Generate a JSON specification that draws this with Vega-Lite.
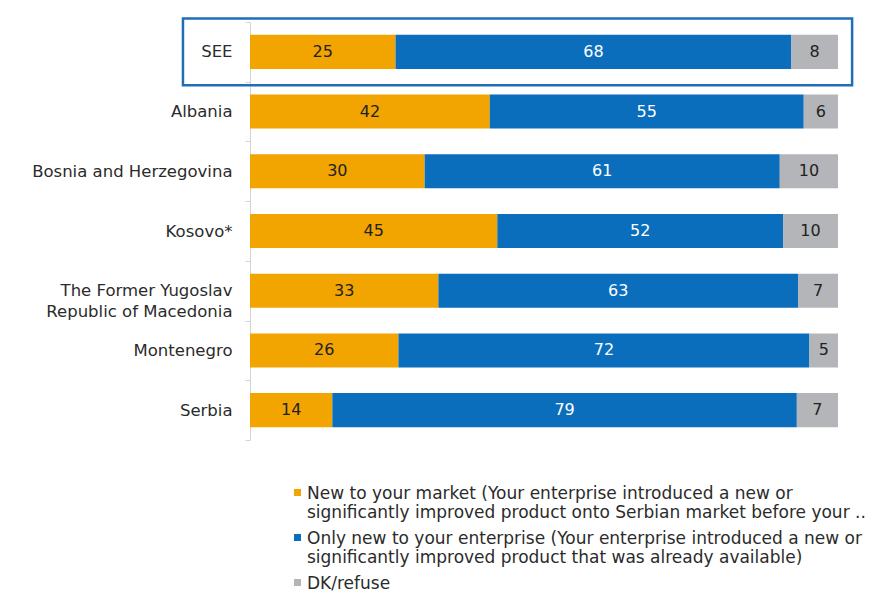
{
  "$schema": "https://vega.github.io/schema/vega-lite/v6.json",
  "width": 588,
  "height": 418,
  "autosize": {"type": "none"},
  "padding": {"left": 250, "top": 22, "right": 49, "bottom": 157},
  "background": "white",
  "config": {"view": {"stroke": null}, "font": "DejaVu Sans"},
  "data": {
    "values": [
      {"region": "SEE", "category": "New to your market", "rank": 1, "value": 25},
      {"region": "SEE", "category": "Only new to your enterprise", "rank": 2, "value": 68},
      {"region": "SEE", "category": "DK/refuse", "rank": 3, "value": 8},
      {"region": "Albania", "category": "New to your market", "rank": 1, "value": 42},
      {"region": "Albania", "category": "Only new to your enterprise", "rank": 2, "value": 55},
      {"region": "Albania", "category": "DK/refuse", "rank": 3, "value": 6},
      {"region": "Bosnia and Herzegovina", "category": "New to your market", "rank": 1, "value": 30},
      {"region": "Bosnia and Herzegovina", "category": "Only new to your enterprise", "rank": 2, "value": 61},
      {"region": "Bosnia and Herzegovina", "category": "DK/refuse", "rank": 3, "value": 10},
      {"region": "Kosovo*", "category": "New to your market", "rank": 1, "value": 45},
      {"region": "Kosovo*", "category": "Only new to your enterprise", "rank": 2, "value": 52},
      {"region": "Kosovo*", "category": "DK/refuse", "rank": 3, "value": 10},
      {"region": "The Former Yugoslav Republic of Macedonia", "category": "New to your market", "rank": 1, "value": 33},
      {"region": "The Former Yugoslav Republic of Macedonia", "category": "Only new to your enterprise", "rank": 2, "value": 63},
      {"region": "The Former Yugoslav Republic of Macedonia", "category": "DK/refuse", "rank": 3, "value": 7},
      {"region": "Montenegro", "category": "New to your market", "rank": 1, "value": 26},
      {"region": "Montenegro", "category": "Only new to your enterprise", "rank": 2, "value": 72},
      {"region": "Montenegro", "category": "DK/refuse", "rank": 3, "value": 5},
      {"region": "Serbia", "category": "New to your market", "rank": 1, "value": 14},
      {"region": "Serbia", "category": "Only new to your enterprise", "rank": 2, "value": 79},
      {"region": "Serbia", "category": "DK/refuse", "rank": 3, "value": 7}
    ]
  },
  "encoding": {
    "y": {
      "field": "region",
      "type": "nominal",
      "sort": ["SEE", "Albania", "Bosnia and Herzegovina", "Kosovo*", "The Former Yugoslav Republic of Macedonia", "Montenegro", "Serbia"],
      "scale": {"paddingInner": 0, "paddingOuter": 0},
      "axis": {
        "title": null,
        "domainColor": "#d4d4d4",
        "tickColor": "#d4d4d4",
        "tickBand": "extent",
        "tickSize": 5,
        "labelFontSize": 16.5,
        "labelColor": "#2b2b2b",
        "labelPadding": 13,
        "labelLimit": 0,
        "labelLineHeight": 21,
        "labelExpr": "datum.label == 'The Former Yugoslav Republic of Macedonia' ? ['The Former Yugoslav', 'Republic of Macedonia'] : datum.label"
      }
    }
  },
  "layer": [
    {
      "mark": {"type": "bar", "height": {"band": 0.57}},
      "encoding": {
        "x": {"field": "value", "type": "quantitative", "stack": "normalize", "scale": {"domain": [0, 1], "nice": false, "zero": false}, "axis": null},
        "color": {
          "field": "category",
          "type": "nominal",
          "scale": {
            "domain": ["New to your market", "Only new to your enterprise", "DK/refuse"],
            "range": ["#f2a400", "#0a6ebd", "#b4b5b8"]
          },
          "legend": {
            "orient": "none",
            "legendX": 39,
            "legendY": 462,
            "direction": "vertical",
            "title": null,
            "padding": 0,
            "symbolType": "square",
            "symbolSize": 49,
            "symbolStrokeWidth": 0,
            "labelFontSize": 17,
            "labelColor": "#2b2b2b",
            "labelLimit": 0,
            "labelOffset": 1,
            "labelBaseline": "top",
            "labelLineHeight": 20,
            "rowPadding": 8,
            "labelExpr": "datum.label == 'New to your market' ? ['New to your market (Your enterprise introduced a new or', 'significantly improved product onto Serbian market before your ..'] : datum.label == 'Only new to your enterprise' ? ['Only new to your enterprise (Your enterprise introduced a new or', 'significantly improved product that was already available)'] : datum.label",
            "encode": {"labels": {"update": {"dy": {"value": -7}}}}
          }
        },
        "order": {"field": "rank"}
      }
    },
    {
      "mark": {"type": "text", "fontSize": 16, "baseline": "middle"},
      "encoding": {
        "x": {"field": "value", "type": "quantitative", "stack": "normalize", "bandPosition": 0.5},
        "detail": {"field": "category"},
        "order": {"field": "rank"},
        "text": {"field": "value", "type": "quantitative"},
        "color": {"condition": {"test": "datum.rank == 2", "value": "white"}, "value": "#222222"}
      }
    },
    {
      "transform": [{"filter": "datum.region == 'SEE' && datum.rank == 1"}],
      "mark": {"type": "rect", "filled": false, "stroke": "#1f6fb8", "strokeWidth": 2.5, "clip": false, "height": {"band": 1.12}},
      "encoding": {
        "x": {"datum": -0.114, "type": "quantitative"},
        "x2": {"datum": 1.024}
      }
    }
  ]
}
